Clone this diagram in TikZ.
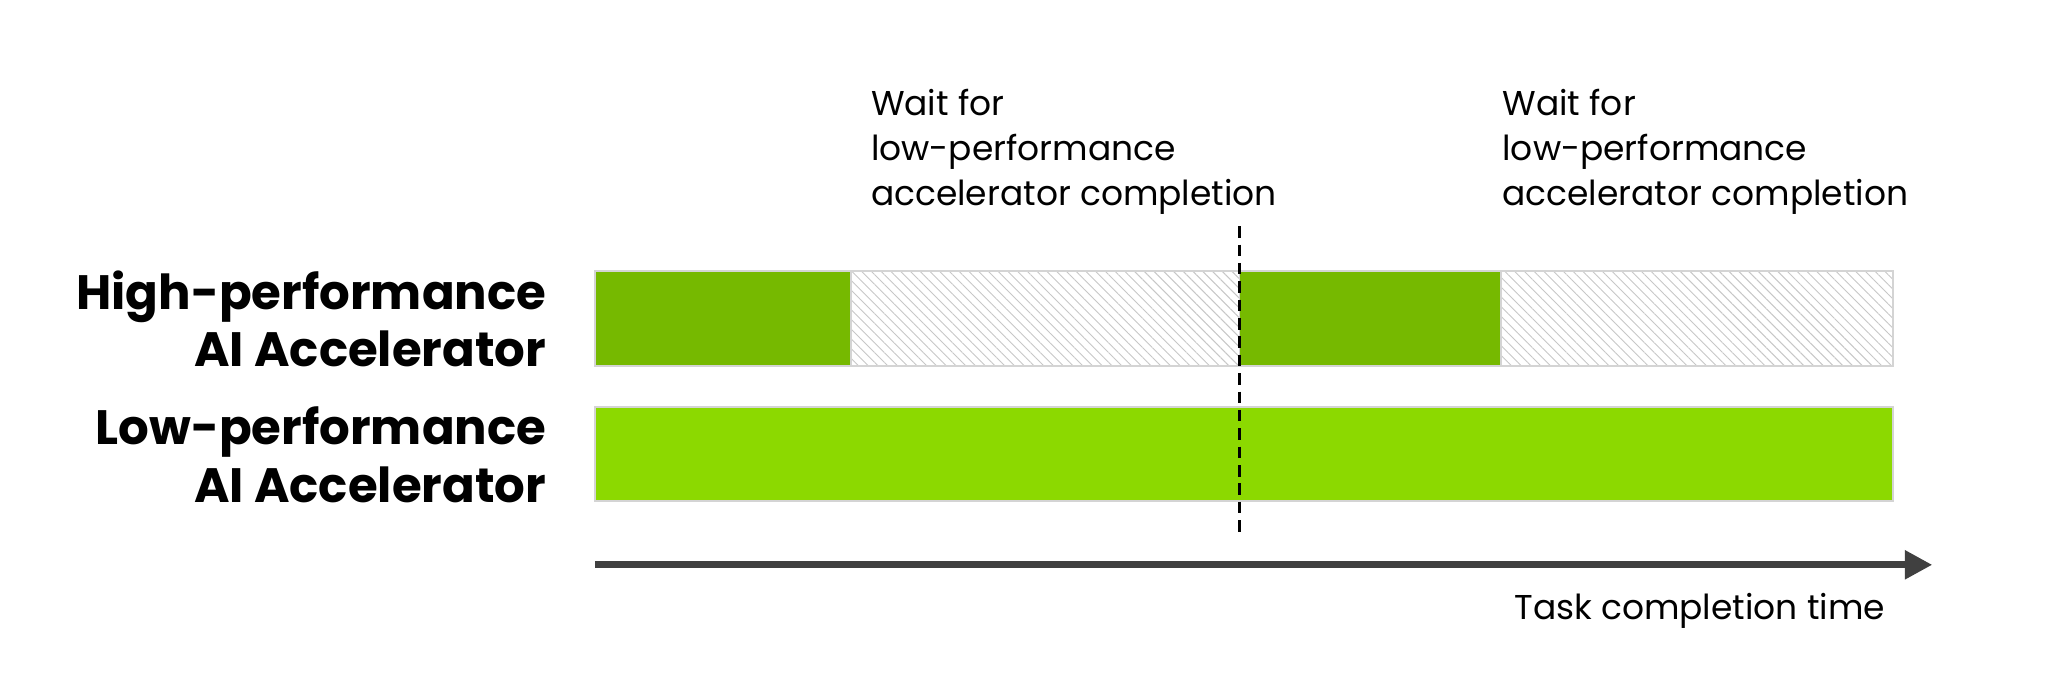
\documentclass[tikz,border=0pt]{standalone}
\usepackage{fontspec}
\setmainfont{Poppins}
\usetikzlibrary{arrows.meta,patterns.meta,positioning}
\definecolor{darkgreen}{HTML}{76B900}
\definecolor{lightgreen}{HTML}{8CD900}
\definecolor{barline}{HTML}{D4D4D4}
\begin{document}
\begin{tikzpicture}[x=0.02cm,y=-0.02cm,
    busy/.style={fill=darkgreen,draw=barline,line width=0.8pt},
    idle/.style={draw=barline,line width=0.8pt,pattern={Lines[angle=-45,distance=3pt,line width=0.4pt]},pattern color=black!22},
    lowbar/.style={fill=lightgreen,draw=barline,line width=0.8pt},
    rowlabel/.style={anchor=east,align=right,font=\fontsize{21}{25}\selectfont\bfseries},
    waitnote/.style={anchor=north west,align=left,font=\fontsize{15}{19.5}\selectfont}]
\useasboundingbox (0,0) rectangle (1568,525);
% bars
\draw[busy] (455,207) rectangle (651,280);
\draw[idle] (651,207) rectangle (948,280);
\draw[busy] (948,207) rectangle (1148,280);
\draw[idle] (1148,207) rectangle (1448,280);
\draw[lowbar] (455,311) rectangle (1448,383);
% labels
\node[rowlabel] (high) at (424,244) {High-performance\\AI Accelerator};
\node[rowlabel] (low) at (424,348) {Low-performance\\AI Accelerator};
\node[waitnote] (wait1) at (660,62) {Wait for\\low-performance\\accelerator completion};
\node[waitnote] (wait2) at (1143,62) {Wait for\\low-performance\\accelerator completion};
% sync line and time axis
\coordinate (synctop) at (948,173);
\coordinate (syncbot) at (948,408);
\draw[dashed,line width=1.3pt,dash pattern=on 5pt off 3pt] (synctop) -- (syncbot);
\coordinate (tstart) at (455,432);
\coordinate (tend) at (1478,432);
\draw[-{Triangle[length=12pt,width=12pt]},line width=3pt,black!75] (tstart) -- (tend);
\node[anchor=east,font=\fontsize{15}{18}\selectfont] (tlabel) at (1448,467) {Task completion time};
\end{tikzpicture}
\end{document}
